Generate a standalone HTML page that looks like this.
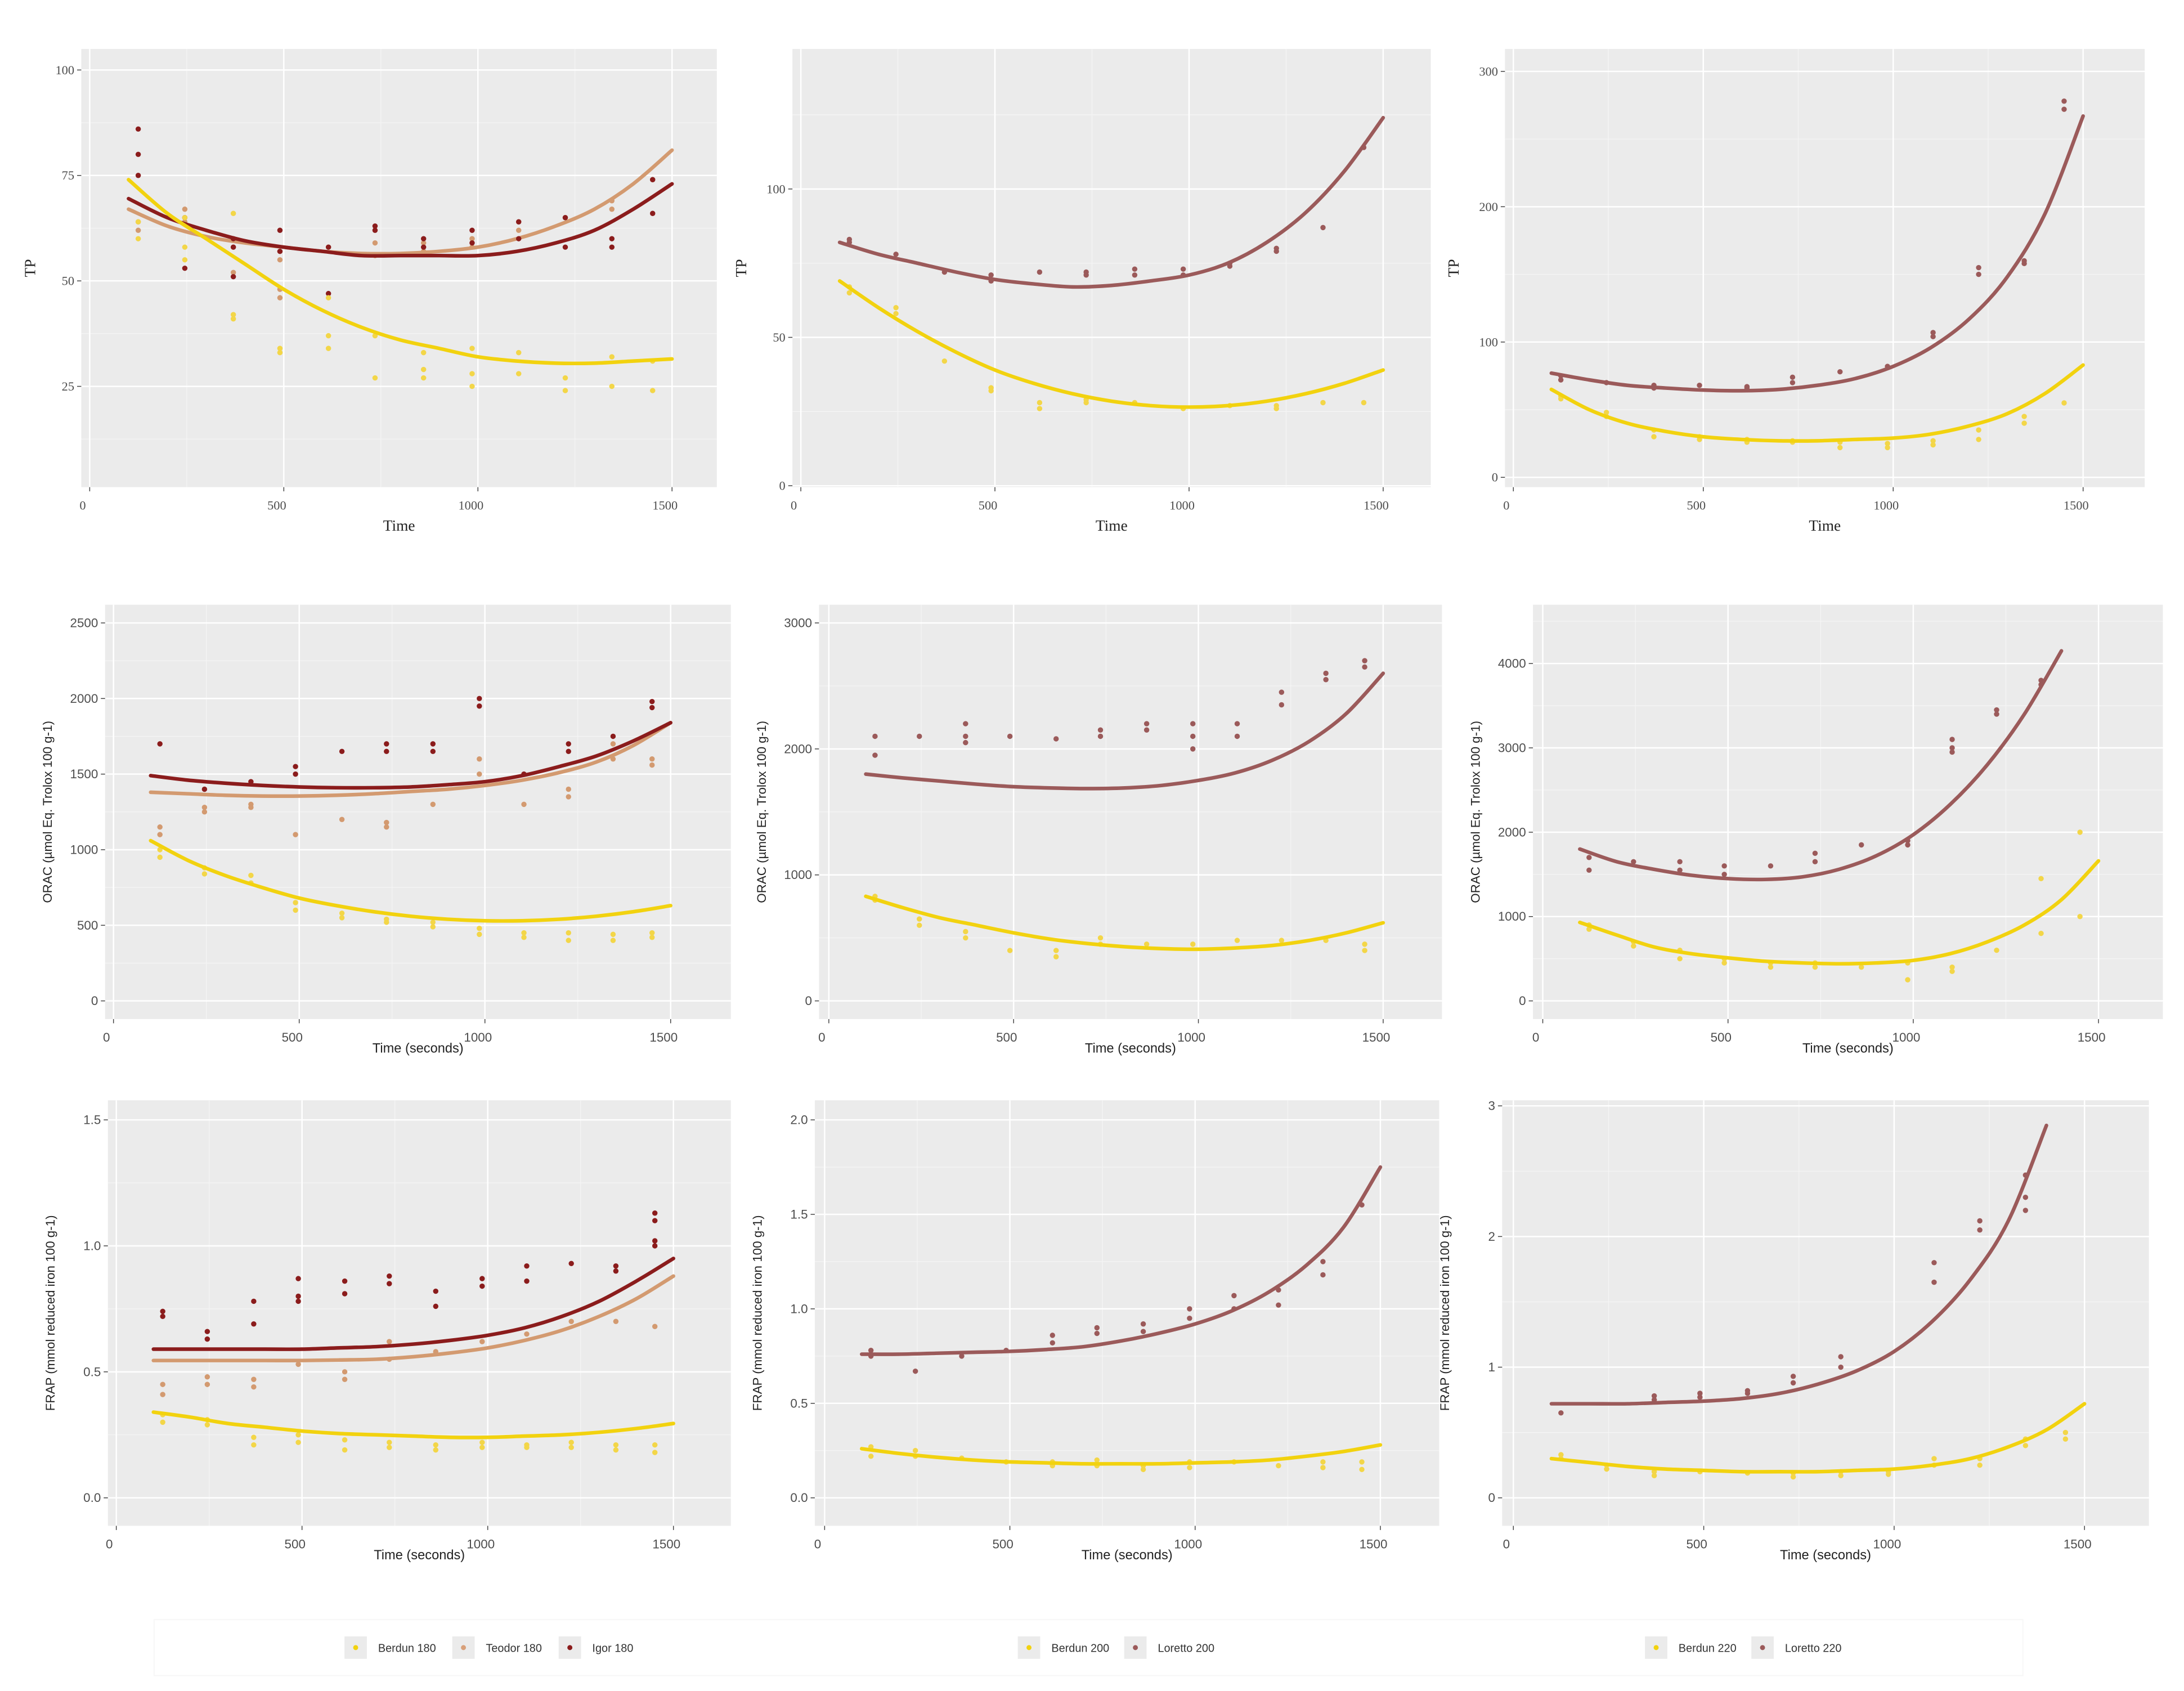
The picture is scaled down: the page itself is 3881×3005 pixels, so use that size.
<!DOCTYPE html>
<html><head><meta charset="utf-8"><style>
html,body{margin:0;padding:0;background:#fff}
svg{display:block}
</style></head><body>
<svg id="fig" width="3881" height="3005" viewBox="0 0 1560 1208" xmlns="http://www.w3.org/2000/svg" style="font-family:'Liberation Sans',sans-serif">
<rect x="0" y="0" width="1560" height="1208" fill="#fff"/>
<rect x="110" y="1157" width="1335" height="40" fill="none" stroke="#f7f7f7" stroke-width="0.8"/>
<g>
<rect x="246" y="1169" width="16" height="16" fill="#ebebeb"/><circle cx="254" cy="1177" r="1.8" fill="#f2d20f"/><text x="270" y="1180" font-size="8" fill="#333">Berdun 180</text>
<rect x="323" y="1169" width="16" height="16" fill="#ebebeb"/><circle cx="331" cy="1177" r="1.8" fill="#d8a07a"/><text x="347" y="1180" font-size="8" fill="#333">Teodor 180</text>
<rect x="399" y="1169" width="16" height="16" fill="#ebebeb"/><circle cx="407" cy="1177" r="1.8" fill="#8b1c1c"/><text x="423" y="1180" font-size="8" fill="#333">Igor 180</text>
</g>
<g>
<rect x="727" y="1169" width="16" height="16" fill="#ebebeb"/><circle cx="735" cy="1177" r="1.8" fill="#f2d20f"/><text x="751" y="1180" font-size="8" fill="#333">Berdun 200</text>
<rect x="803" y="1169" width="16" height="16" fill="#ebebeb"/><circle cx="811" cy="1177" r="1.8" fill="#9b5a5a"/><text x="827" y="1180" font-size="8" fill="#333">Loretto 200</text>
</g>
<g>
<rect x="1175" y="1169" width="16" height="16" fill="#ebebeb"/><circle cx="1183" cy="1177" r="1.8" fill="#f2d20f"/><text x="1199" y="1180" font-size="8" fill="#333">Berdun 220</text>
<rect x="1251" y="1169" width="16" height="16" fill="#ebebeb"/><circle cx="1259" cy="1177" r="1.8" fill="#9b5a5a"/><text x="1275" y="1180" font-size="8" fill="#333">Loretto 220</text>
</g>
</svg>
<script>
const sampleTimes = [125,245,370,490,615,735,860,985,1105,1225,1345,1450];
const fitTimes = [100,200,300,400,500,600,700,800,900,1000,1100,1200,1300,1400,1500];
const tp180BerdunFit = [74,66,60,54,48,43,39,36,34,32,31,30.5,30.5,31,31.5];
const tp180TeodorFit = [67,63,60.5,59,58,57,56.5,56.5,57,58,60,63,67,73,81];
const tp180IgorFit = [69.5,65,62,59.5,58,57,56,56,56,56,57,59,62,67,73];
const tp180BerdunPts = [[64,60],[65,58,55],[66,42,41],[34,33],[46,37,34],[37,27],[33,29,27],[34,28,25],[33,28],[27,24],[32,25],[31,24]];
const tp180TeodorPts = [[62,64],[67,64],[58,52],[57,55,48,46],[58],[59,56],[59,57],[58,60],[62,64],[65],[69,67],[74]];
const tp180IgorPts = [[86,80,75],[65,53],[60,58,51],[62,57],[58,47],[63,62],[60,58],[62,59],[64,60],[65,58],[60,58],[74,66]];
const tp200LorettoFit = [82,78,75,72,69.5,68,67,67.5,69,71,75,82,92,106,124];
const tp200BerdunFit = [69,60,52,45,39,34.5,31,28.5,27,26.5,27,28.5,31,34.5,39];
const tp200LorettoPts = [[83,82],[78],[72],[71,69],[72],[72,71],[73,71],[73,71],[75,74],[80,79],[87],[114]];
const tp200BerdunPts = [[67,65],[60,58],[42],[33,32],[28,26],[29,28],[28],[26],[27],[27,26],[28],[28]];
const tp220LorettoFit = [77,72,68,66,64.5,64,65,68,73,82,96,117,148,195,267];
const tp220BerdunFit = [65,50,40,34,30,28,27,27,28,29,32,38,47,62,83];
const tp220LorettoPts = [[75,72],[70],[68,66],[68],[67,66],[74,70],[78],[82],[107,104],[155,150],[160,158],[278,272]];
const tp220BerdunPts = [[60,58],[48,45],[35,30],[30,28],[28,26],[27,26],[26,22],[25,22],[27,24],[35,28],[45,40],[55]];
const orac180BerdunFit = [1060,930,830,750,680,630,590,560,540,530,530,540,560,590,630];
const orac180TeodorFit = [1380,1370,1360,1355,1355,1360,1370,1385,1400,1425,1460,1510,1580,1690,1840];
const orac180IgorFit = [1490,1460,1440,1425,1415,1410,1410,1415,1430,1450,1490,1550,1620,1720,1840];
const orac180BerdunPts = [[1000,950],[880,840],[830,780],[650,600],[580,550],[540,520],[520,490],[480,440],[450,420],[450,400],[440,400],[450,420]];
const orac180TeodorPts = [[1100,1150],[1280,1250],[1280,1300],[1100],[1200],[1150,1180],[1300],[1600,1500],[1300],[1400,1350],[1700,1600],[1600,1560]];
const orac180IgorPts = [[1700],[1400],[1450],[1550,1500],[1650],[1700,1650],[1700,1650],[2000,1950],[1500],[1700,1650],[1750],[1980,1940]];
const orac200LorettoFit = [1800,1770,1745,1720,1700,1690,1685,1690,1710,1750,1810,1910,2060,2280,2600];
const orac200BerdunFit = [830,740,660,600,540,490,455,430,415,410,420,440,480,540,620];
const orac200LorettoPts = [[2100,1950],[2100],[2200,2100,2050],[2100],[2080],[2150,2100],[2200,2150],[2200,2100,2000],[2200,2100],[2450,2350],[2600,2550],[2700,2650]];
const orac200BerdunPts = [[830,800],[650,600],[550,500],[400],[400,350],[500,450],[450],[450],[480],[480],[480],[450,400]];
const orac220LorettoFit = [1800,1650,1560,1490,1450,1440,1470,1560,1720,1970,2330,2800,3400,4150,null];
const orac220BerdunFit = [930,780,640,560,510,470,450,440,450,480,560,700,900,1200,1660];
const orac220LorettoPts = [[1700,1550],[1650],[1650,1550],[1600,1500],[1600],[1750,1650],[1850],[1900,1850],[3100,3000,2950],[3450,3400],[3800,3750],[]];
const orac220BerdunPts = [[900,850],[700,650],[600,500],[500,450],[450,400],[450,400],[400],[450,250],[400,350],[600],[1450,800],[2000,1000]];
const frap180BerdunFit = [0.34,0.32,0.295,0.28,0.265,0.255,0.25,0.245,0.24,0.24,0.245,0.25,0.26,0.275,0.295];
const frap180TeodorFit = [0.545,0.545,0.545,0.545,0.545,0.547,0.55,0.56,0.575,0.595,0.625,0.665,0.72,0.79,0.88];
const frap180IgorFit = [0.59,0.59,0.59,0.59,0.59,0.595,0.6,0.61,0.625,0.645,0.675,0.72,0.78,0.86,0.95];
const frap180BerdunPts = [[0.33,0.3],[0.31,0.29],[0.24,0.21],[0.25,0.22],[0.23,0.19],[0.22,0.2],[0.21,0.19],[0.22,0.2],[0.21,0.2],[0.22,0.2],[0.21,0.19],[0.21,0.18]];
const frap180TeodorPts = [[0.45,0.41],[0.48,0.45],[0.47,0.44],[0.53],[0.5,0.47],[0.62,0.55],[0.58],[0.62],[0.65],[0.7],[0.7],[0.68]];
const frap180IgorPts = [[0.74,0.72],[0.66,0.63],[0.78,0.69],[0.87,0.8,0.78],[0.86,0.81],[0.88,0.85],[0.82,0.76],[0.87,0.84],[0.92,0.86],[0.93],[0.92,0.9],[1.13,1.1,1.02,1.0]];
const frap200LorettoFit = [0.76,0.76,0.765,0.77,0.775,0.785,0.8,0.83,0.87,0.92,0.99,1.09,1.23,1.43,1.75];
const frap200BerdunFit = [0.26,0.235,0.215,0.2,0.19,0.185,0.18,0.18,0.18,0.185,0.19,0.2,0.22,0.245,0.28];
const frap200LorettoPts = [[0.78,0.75],[0.67],[0.75],[0.78],[0.86,0.82],[0.9,0.87],[0.92,0.88],[1.0,0.95],[1.07,1.0],[1.1,1.02],[1.25,1.18],[1.55]];
const frap200BerdunPts = [[0.27,0.22],[0.25,0.22],[0.21],[0.19],[0.19,0.17],[0.2,0.17],[0.17,0.15],[0.19,0.16],[0.19],[0.17],[0.19,0.16],[0.19,0.15]];
const frap220LorettoFit = [0.72,0.72,0.72,0.73,0.74,0.76,0.8,0.87,0.97,1.12,1.35,1.67,2.12,2.85,null];
const frap220BerdunFit = [0.3,0.27,0.24,0.22,0.21,0.2,0.2,0.2,0.21,0.22,0.25,0.3,0.39,0.52,0.72];
const frap220LorettoPts = [[0.65],[],[0.78,0.75],[0.8,0.77],[0.82,0.8],[0.93,0.88],[1.08,1.0],[],[1.8,1.65],[2.12,2.05],[2.47,2.3,2.2],[]];
const frap220BerdunPts = [[0.33,0.3],[0.25,0.22],[0.2,0.17],[0.2],[0.19],[0.19,0.16],[0.2,0.17],[0.2,0.18],[0.3,0.25],[0.3,0.25],[0.45,0.4],[0.5,0.45]];
const xTicks = [0,500,1000,1500];
const tpTicks180 = [25,50,75,100];
const tpTicks200 = [0,50,100];
const tpTicks220 = [0,100,200,300];
const oracTicks180 = [0,500,1000,1500,2000,2500];
const oracTicks200 = [0,1000,2000,3000];
const oracTicks220 = [0,1000,2000,3000,4000];
const frapTicks180 = [0,0.5,1.0,1.5];
const frapTicks200 = [0,0.5,1.0,1.5,2.0];
const frapTicks220 = [0,1,2,3];

const C = {berdun:'#f2d20f', berdunPt:'#f3d648', teodor:'#d39a70', igor:'#8b1c1c', loretto:'#9b5a5a'};
const NS='http://www.w3.org/2000/svg';
const svg=document.getElementById('fig');
function mk(tag,attrs,parent){const e=document.createElementNS(NS,tag);for(const k in attrs)e.setAttribute(k,attrs[k]);(parent||svg).appendChild(e);return e;}

const panels=[
 {id:'tp-180',bg:[58,35,512,348],x0:64,x1500:480,ya:[25,276],yb:[100,50],ticks:tpTicks180,fmt:v=>v,ytitle:'TP',xtitle:'Time',serif:true,
  series:[['teodor',tp180TeodorFit,tp180TeodorPts],['igor',tp180IgorFit,tp180IgorPts],['berdun',tp180BerdunFit,tp180BerdunPts]]},
 {id:'tp-200',bg:[566,35,1022,348],x0:572,x1500:988,ya:[0,347],yb:[100,135],ticks:tpTicks200,fmt:v=>v,ytitle:'TP',xtitle:'Time',serif:true,
  series:[['loretto',tp200LorettoFit,tp200LorettoPts],['berdun',tp200BerdunFit,tp200BerdunPts]]},
 {id:'tp-220',bg:[1075,35,1532,348],x0:1081,x1500:1488,ya:[0,341],yb:[300,51],ticks:tpTicks220,fmt:v=>v,ytitle:'TP',xtitle:'Time',serif:true,
  series:[['loretto',tp220LorettoFit,tp220LorettoPts],['berdun',tp220BerdunFit,tp220BerdunPts]]},
 {id:'orac-180',bg:[75,432,522,728],x0:81,x1500:479,ya:[0,715],yb:[2500,445],ticks:oracTicks180,fmt:v=>v,ytitle:'ORAC (µmol Eq. Trolox 100 g-1)',xtitle:'Time (seconds)',
  series:[['teodor',orac180TeodorFit,orac180TeodorPts],['igor',orac180IgorFit,orac180IgorPts],['berdun',orac180BerdunFit,orac180BerdunPts]]},
 {id:'orac-200',bg:[585,432,1030,728],x0:592,x1500:988,ya:[0,715],yb:[3000,445],ticks:oracTicks200,fmt:v=>v,ytitle:'ORAC (µmol Eq. Trolox 100 g-1)',xtitle:'Time (seconds)',
  series:[['loretto',orac200LorettoFit,orac200LorettoPts],['berdun',orac200BerdunFit,orac200BerdunPts]]},
 {id:'orac-220',bg:[1095,432,1545,728],x0:1102,x1500:1499,ya:[0,715],yb:[4000,474],ticks:oracTicks220,fmt:v=>v,ytitle:'ORAC (µmol Eq. Trolox 100 g-1)',xtitle:'Time (seconds)',
  series:[['loretto',orac220LorettoFit,orac220LorettoPts],['berdun',orac220BerdunFit,orac220BerdunPts]]},
 {id:'frap-180',bg:[77,786,522,1090],x0:83,x1500:481,ya:[0,1070],yb:[1.5,800],ticks:frapTicks180,fmt:v=>v.toFixed(1),ytitle:'FRAP (mmol reduced iron 100 g-1)',xtitle:'Time (seconds)',
  series:[['teodor',frap180TeodorFit,frap180TeodorPts],['igor',frap180IgorFit,frap180IgorPts],['berdun',frap180BerdunFit,frap180BerdunPts]]},
 {id:'frap-200',bg:[582,786,1028,1090],x0:589,x1500:986,ya:[0,1070],yb:[2.0,800],ticks:frapTicks200,fmt:v=>v.toFixed(1),ytitle:'FRAP (mmol reduced iron 100 g-1)',xtitle:'Time (seconds)',
  series:[['loretto',frap200LorettoFit,frap200LorettoPts],['berdun',frap200BerdunFit,frap200BerdunPts]]},
 {id:'frap-220',bg:[1073,786,1535,1090],x0:1081,x1500:1489,ya:[0,1070],yb:[3,790],ticks:frapTicks220,fmt:v=>v,ytitle:'FRAP (mmol reduced iron 100 g-1)',xtitle:'Time (seconds)',
  series:[['loretto',frap220LorettoFit,frap220LorettoPts],['berdun',frap220BerdunFit,frap220BerdunPts]]}
];

panels.forEach(p=>{
  const g=mk('g',{});
  
  
  const [L,T,R,B]=p.bg;
  const X=t=>p.x0+(p.x1500-p.x0)*t/1500;
  const Y=v=>p.ya[1]+(p.yb[1]-p.ya[1])*(v-p.ya[0])/(p.yb[0]-p.ya[0]);
  const bg=mk('rect',{x:L,y:T,width:R-L,height:B-T,fill:'#ebebeb'},g);
  
  
  const ff=p.serif?"font-family:'Liberation Serif',serif":"font-family:'Liberation Sans',sans-serif";
  const step=p.ticks[1]-p.ticks[0];
  for(let i=0;i<p.ticks.length;i++){
    const ym=Y(p.ticks[i]-step/2);
    if(ym>T&&ym<B) mk('line',{x1:L,x2:R,y1:ym,y2:ym,stroke:'#f5f5f5','stroke-width':0.5},g);
  }
  const ylast=Y(p.ticks[p.ticks.length-1]+step/2);
  if(ylast>T) mk('line',{x1:L,x2:R,y1:ylast,y2:ylast,stroke:'#f5f5f5','stroke-width':0.5},g);
  [250,750,1250].forEach(t=>mk('line',{x1:X(t),x2:X(t),y1:T,y2:B,stroke:'#f5f5f5','stroke-width':0.5},g));
  p.ticks.forEach(v=>{
    const y=Y(v);
    mk('line',{x1:L,x2:R,y1:y,y2:y,stroke:'#fff','stroke-width':1},g);
    mk('line',{x1:L-3,x2:L,y1:y,y2:y,stroke:'#444','stroke-width':0.6},g);
    const tx=mk('text',{x:L-5,y:y+3,'text-anchor':'end','font-size':9,fill:'#4d4d4d',style:ff},g);
    tx.textContent=p.fmt(v);
    
    
  });
  xTicks.forEach(t=>{
    const x=X(t);
    mk('line',{x1:x,x2:x,y1:T,y2:B,stroke:'#fff','stroke-width':1},g);
    mk('line',{x1:x,x2:x,y1:B,y2:B+3,stroke:'#444','stroke-width':0.6},g);
    const tx=mk('text',{x:x-5,y:B+16,'text-anchor':'middle','font-size':9,fill:'#4d4d4d',style:ff},g);
    tx.textContent=t;
    
    
  });
  const xt=mk('text',{x:(L+R)/2,y:B+(p.serif?31:24),'text-anchor':'middle','font-size':p.serif?11:9.5,fill:'#222',style:ff},g);
  xt.textContent=p.xtitle;
  
  
  const yx=p.serif?L-33:L-38, yy=(T+B)/2;
  const yt=mk('text',{x:yx,y:yy,'text-anchor':'middle','font-size':p.serif?11:9,fill:'#222',style:ff,transform:`rotate(-90 ${yx} ${yy})`},g);
  yt.textContent=p.ytitle;
  
  
  p.series.forEach(([name,fit,pts])=>{
    const col=C[name];
    const pc=name==='berdun'?C.berdunPt:col;
    const sg=mk('g',{},g);
    
    
    pts.forEach((arr,i)=>arr.forEach(v=>{
      const c=mk('circle',{cx:X(sampleTimes[i]),cy:Y(v),r:1.9,fill:pc},sg);
      
      
    }));
    const coords=[];
    fit.forEach((v,i)=>{if(v!==null)coords.push([X(fitTimes[i]),Y(v)]);});
    let d='M'+coords[0][0]+','+coords[0][1];
    for(let i=0;i<coords.length-1;i++){
      const p0=coords[Math.max(0,i-1)],p1=coords[i],p2=coords[i+1],p3=coords[Math.min(coords.length-1,i+2)];
      const c1x=p1[0]+(p2[0]-p0[0])/6,c1y=p1[1]+(p2[1]-p0[1])/6,c2x=p2[0]-(p3[0]-p1[0])/6,c2y=p2[1]-(p3[1]-p1[1])/6;
      d+=` C${c1x},${c1y} ${c2x},${c2y} ${p2[0]},${p2[1]}`;
    }
    const ln=mk('path',{d:d,fill:'none',stroke:col,'stroke-width':2.6,'stroke-linecap':'round'},sg);
    
    
  });
});
</script>
</body></html>
